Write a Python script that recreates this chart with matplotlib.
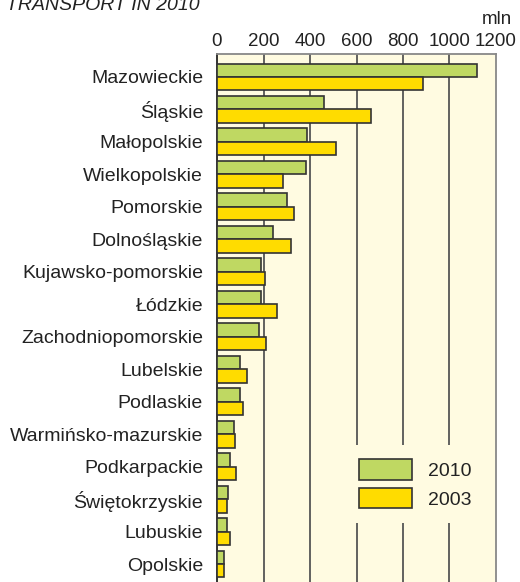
import numpy as np
import matplotlib.pyplot as plt

# Passenger transport by voivodeship, mln
regions = ['Mazowieckie', 'Śląskie', 'Małopolskie', 'Wielkopolskie', 'Pomorskie',
           'Dolnośląskie', 'Kujawsko-pomorskie', 'Łódzkie', 'Zachodniopomorskie',
           'Lubelskie', 'Podlaskie', 'Warmińsko-mazurskie', 'Podkarpackie',
           'Świętokrzyskie', 'Lubuskie', 'Opolskie']
v2010 = [1117, 461, 389, 382, 303, 243, 189, 189, 181, 98, 98, 72, 58, 47, 43, 29]
v2003 = [887, 663, 512, 283, 330, 319, 207, 256, 210, 129, 112, 76, 80, 43, 58, 30]
xticks = [0, 200, 400, 600, 800, 1000, 1200]

plt.rcParams['font.family'] = ['Liberation Sans', 'DejaVu Sans']

bg = '#FFFBE1'
green = '#BFD862'
yellow = '#FFDC00'
edge = '#333333'

fig = plt.figure(figsize=(5.2, 5.82), dpi=100)
ax = fig.add_axes([217/520, 0, (496-217)/520, 1 - 54/582])
ax.set_facecolor(bg)

y = np.arange(len(regions))
h = 0.415
ax.barh(y - h/2, v2010, height=h, color=green, edgecolor=edge, lw=1.2, label='2010', zorder=3)
ax.barh(y + h/2, v2003, height=h, color=yellow, edgecolor=edge, lw=1.2, label='2003', zorder=3)

ax.set_xlim(0, 1200)
ax.set_ylim(len(regions) - 1 + 0.554, -0.708)
ax.set_yticks(y)
ax.set_yticklabels(regions, fontsize=14, color='#222222')
ax.set_xticks(xticks)
ax.set_xticklabels([str(t) for t in xticks], fontsize=13.5, color='#222222')
ax.xaxis.tick_top()
ax.tick_params(axis='both', length=0)
ax.tick_params(axis='x', pad=3)
ax.tick_params(axis='y', pad=10)

# vertical grid lines behind the bars
for x in xticks[1:-1]:
    ax.axvline(x, color='#555555', lw=1.3, zorder=1)

ax.spines['left'].set_color('#222222')
ax.spines['left'].set_linewidth(1.3)
ax.spines['top'].set_color('#888888')
ax.spines['top'].set_linewidth(1.3)
ax.spines['right'].set_color('#888888')
ax.spines['right'].set_linewidth(1.3)
ax.spines['bottom'].set_visible(False)

leg = ax.legend(loc='center', bbox_to_anchor=(415/520, 1 - 484/582),
                bbox_transform=fig.transFigure, fontsize=14,
                handlelength=2.75, handleheight=1.25, labelspacing=0.4,
                handletextpad=0.8, borderpad=0.75, frameon=True, fancybox=False)
leg.get_frame().set_facecolor(bg)
leg.get_frame().set_edgecolor('none')
leg.get_frame().set_alpha(1)
leg.set_zorder(5)
for t in leg.get_texts():
    t.set_color('#222222')

fig.text(512/520, 1 - 24/582, 'mln', ha='right', va='baseline', fontsize=13.5, color='#222222')
fig.text(6/520, 1 - 10/582, 'TRANSPORT IN 2010', ha='left', va='baseline',
         fontsize=14, style='italic', color='#222222')

fig.savefig('out.png', dpi=100)
